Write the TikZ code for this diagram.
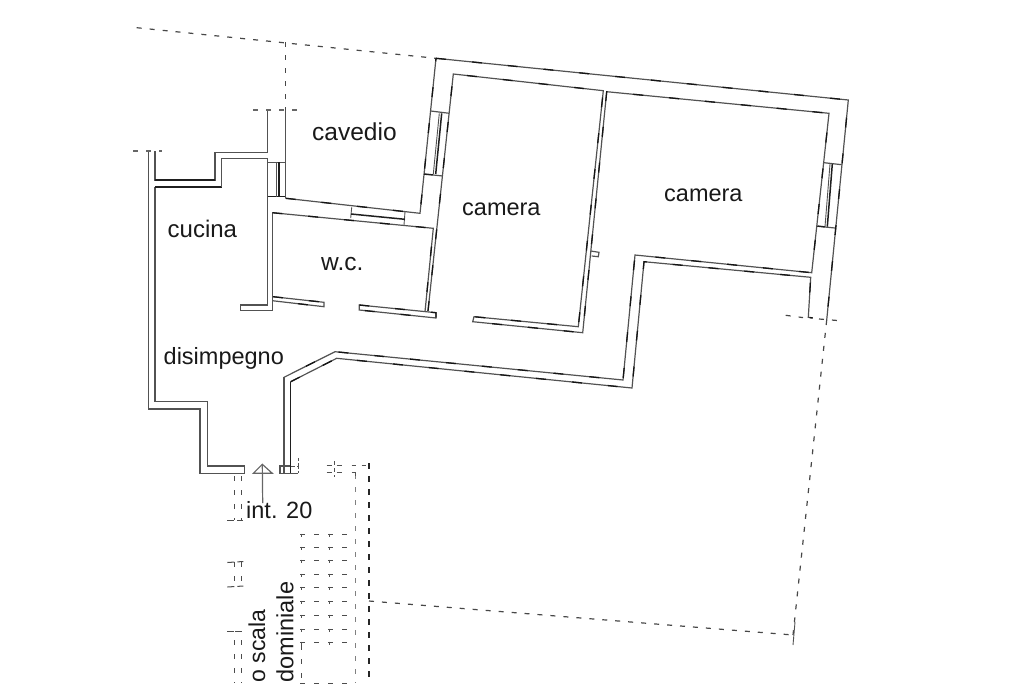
\documentclass[tikz,border=0pt]{standalone}
\usepackage{fontspec}
\setmainfont{Liberation Sans}
\begin{document}
\begin{tikzpicture}[x=1pt,y=-1pt]
\tikzstyle{wall}=[draw=black!68,line width=1.2pt,line join=miter]
\tikzstyle{slant}=[wall,postaction={draw=black!92,line width=1.3pt,dash pattern=on 10pt off 26pt}]
\tikzstyle{heavy}=[draw=black!88,line width=1.5pt]
\tikzstyle{thin}=[draw=black!68,line width=0.9pt]
\tikzstyle{bound}=[draw=black!72,line width=1.2pt,dash pattern=on 5pt off 8pt]
\tikzstyle{stairs}=[draw=black!70,line width=1pt,dash pattern=on 5pt off 9pt]
\tikzstyle{label}=[anchor=base west,inner sep=0pt,font=\fontsize{23.5}{26}\selectfont,text=black!90]
\useasboundingbox (0,0) rectangle (1024,683);
% cucina and disimpegno, left side
\draw[wall] (148.5,151) -- (148.5,409) -- (200,409) -- (200,473.3) -- (244.3,473.3) -- (244.3,466) -- (207.3,466) -- (207.3,401.7) -- (155,401.7) -- (155,187);
\draw[bound,draw=black!60] (133,151) -- (162,151);
\draw[wall] (155,151) -- (155,180) -- (215,180) -- (215,152.3) -- (267.7,152.3) -- (267.7,110);
\draw[heavy] (155,180) -- (215,180);
\draw[heavy] (155,187) -- (221.7,187);
\draw[wall] (221.7,187) -- (221.7,158.3) -- (267.7,158.3) -- (267.7,305) -- (240.7,305) -- (240.7,310.7) -- (272.3,310.7) -- (272.3,212.7);
\draw[bound,draw=black!60] (253,110) -- (297,110);
% window next to cucina
\draw[wall] (267.7,162.3) -- (285.7,162.3);
\draw[heavy] (267.7,196.7) -- (285.7,196.7);
\draw[wall] (276.7,162.3) -- (276.7,196.7);
\draw[heavy] (279,162.3) -- (279,196.7);
% cavedio
\draw[bound] (136.7,27.7) -- (436,58.3);
\draw[bound] (285.7,42) -- (285.7,110);
\draw[wall] (285.7,110) -- (285.7,198.3);
\draw[slant] (285.7,198.3) -- (420,213.3) -- (436,58.3);
\draw[thin] (351.7,207.3) -- (350.7,218);
\draw[thin] (405,211.7) -- (404,225);
\draw[heavy] (351,214) -- (405,219.3);
% w.c.
\draw[slant] (272.3,212.7) -- (433.3,228.3) -- (425,311.7);
\draw[slant] (273,296.7) -- (324,302.3) -- (324,306.7) -- (272.3,300.7);
\draw[slant] (359.3,305) -- (436,312.7) -- (436,318) -- (359.3,310) -- cycle;
% window to the first camera
\draw[wall] (430.7,111) -- (449.3,113.3);
\draw[heavy] (424,174) -- (433.3,175);
\draw[wall] (433.3,175) -- (442.7,176);
\draw[thin] (439.3,113.3) -- (433.3,174);
\draw[heavy] (441.7,113.3) -- (435.7,174);
% camera walls
\draw[slant] (436,58.3) -- (848.3,100) -- (826.7,320);
\draw[slant] (428,311) -- (453.3,74) -- (603.3,90.7) -- (578.3,326.7) -- (474,316.7) -- (472.7,321.7) -- (582.7,332.7) -- (606.7,91.7) -- (829,113.3) -- (811.7,272.7) -- (635,255) -- (623,380) -- (335,351.7) -- (284,377.3);
\draw[slant] (290.7,381.7) -- (336.7,358.3) -- (632,388) -- (644,261.7) -- (810.7,277.3) -- (808.3,317.3) -- (812.7,318);
\draw[wall] (590.7,251) -- (599,252.3) -- (598.3,256.7) -- (591.7,256);
% window to the second camera
\draw[wall] (824,162.7) -- (841.7,164.7);
\draw[heavy] (817.3,226) -- (825,227);
\draw[wall] (825,227) -- (835,228);
\draw[thin] (830,164) -- (825,226.7);
\draw[heavy] (832.3,164) -- (827.3,226.7);
% entrance
\draw[wall] (284,377.3) -- (284,473.3) -- (280,473.3) -- (280,466) -- (291,466);
\draw[heavy] (290.7,381.7) -- (290.7,473.3);
\draw[wall] (280,473.3) -- (298,473.3);
\draw[thin,dash pattern=on 4pt off 2pt] (291,466) -- (298,466) -- (298,473.3);
\draw[thin,dash pattern=on 3pt off 2pt] (298,458) -- (298,466);
\coordinate (tip) at (262.3,464.3);
\coordinate (foot) at (262.7,503);
\draw[wall,draw=black!60] (253.3,473.3) -- (tip) -- (272.3,473.3) -- cycle;
\draw[wall,draw=black!60] (tip) -- (foot);
% outer boundary
\draw[bound] (785.7,315.3) -- (803,317.6);
\draw[bound] (819,319) -- (840,320.7);
\draw[bound] (826.7,320) -- (793,635);
\draw[bound] (369,601) -- (793,635);
\draw[thin] (795,622) -- (793,645);
% stairwell
\foreach \yy in {534.3,547.3,560.7,574,587.7,601.7,615,629,642.3,683}
  \draw[stairs] (300,\yy) -- (348,\yy);
\foreach \xx in {301.7,329}
  \foreach \yy in {537,550,563,577,590,604,618,632,645}
    \draw[thin,line width=1pt] (\xx,\yy-3.5) -- (\xx,\yy);
\draw[stairs] (301.7,645) -- (301.7,683);
\draw[bound,draw=black!50,line width=0.9pt] (355,474) -- (355,683);
\draw[bound,line width=1.4pt,draw=black!85,dash pattern=on 6pt off 7pt] (369,463) -- (369,683);
\draw[thin,dash pattern=on 5pt off 5pt] (326.7,465.5) -- (342,465.5);
\draw[thin,dash pattern=on 5pt off 5pt] (326.7,472.5) -- (342,472.5);
\draw[thin,dash pattern=on 4pt off 3pt] (334,461) -- (334,477);
\draw[thin,dash pattern=on 4pt off 6pt] (351.7,465.5) -- (369,465.5);
\draw[thin] (351.7,472.5) -- (355,472.5) -- (355,476);
% service stairs, left
\foreach \xx in {234,241.7}{
  \draw[stairs] (\xx,476) -- (\xx,520);
  \draw[stairs] (\xx,562) -- (\xx,588);
  \draw[stairs] (\xx,640) -- (\xx,683);
}
\draw[stairs,dash pattern=on 7pt off 3pt] (227.3,520) -- (243.3,520);
\draw[stairs,dash pattern=on 7pt off 3pt] (227.3,562.5) -- (243.3,561.5);
\draw[stairs,dash pattern=on 7pt off 3pt] (227.3,587) -- (243.3,586);
\draw[stairs,dash pattern=on 7pt off 1pt] (227.3,631) -- (243.3,631);
% labels
\node[label,font=\fontsize{24.5}{26}\selectfont] (cavedio) at (312,140.5) {cavedio};
\node[label,font=\fontsize{24}{26}\selectfont] (cucina) at (167.5,237) {cucina};
\node[label,font=\fontsize{24.5}{26}\selectfont] (wc) at (321,270) {w.c.};
\node[label] (cameraA) at (462,215.5) {camera};
\node[label] (cameraB) at (664,201) {camera};
\node[label] (disimpegno) at (163.5,364) {disimpegno};
\node[label] (interno) at (246,518) {int. 20};
\node[label,rotate=90,font=\fontsize{23}{26}\selectfont] (scala) at (265,682.5) {o scala};
\node[label,rotate=90] (condominiale) at (293.3,682.5) {dominiale};
\end{tikzpicture}
\end{document}
